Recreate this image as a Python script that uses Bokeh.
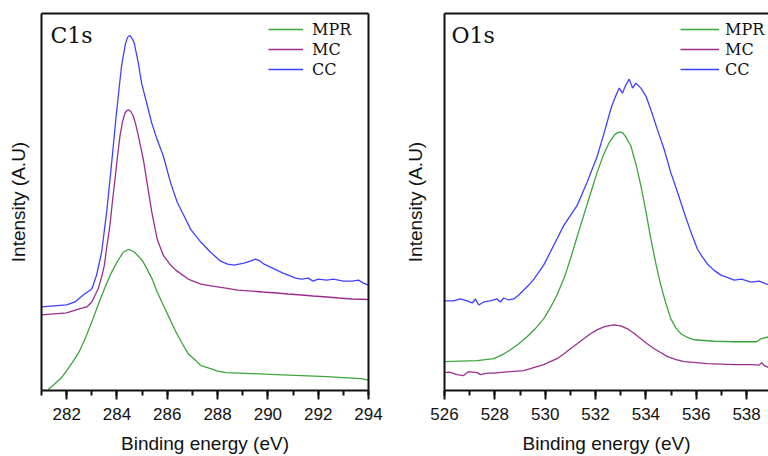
from bokeh.plotting import figure
from bokeh.layouts import row
from bokeh.models import (Range1d, LinearAxis, SingleIntervalTicker, FixedTicker,
                          Legend, LegendItem, Label)
from bokeh.embed import file_html
from bokeh.resources import INLINE

# ---------------- C1s panel data (binding energy eV, intensity a.u.) ----------------
c1s_mpr_e = [281.27, 281.5, 281.8, 282.0, 282.25, 282.5, 282.75, 283.0, 283.25, 283.5,
             283.75, 284.0, 284.25, 284.47, 284.7, 285.0, 285.2, 285.4, 285.6, 285.84,
             286.1, 286.34, 286.6, 286.83, 287.1, 287.34, 287.6, 287.84, 288.0, 288.33,
             289.34, 290.34, 291.34, 292.34, 293.0, 293.35, 293.7, 294.0]
c1s_mpr_i = [1, 6, 13, 20, 29, 39, 53, 69, 86, 102,
             117, 129, 139, 142, 139, 131, 122, 112, 99, 86,
             72, 59, 47, 37, 31, 25, 23, 21, 19.5, 18,
             17, 16, 15, 14, 13, 12.5, 12, 10.5]

c1s_mc_e = [281.0, 281.5, 282.0, 282.5, 282.8, 283.0, 283.25, 283.4, 283.5, 283.6,
            283.72, 283.82, 283.92, 284.02, 284.12, 284.22, 284.32, 284.4, 284.47, 284.55,
            284.65, 284.75, 284.85, 285.05, 285.24, 285.38, 285.6, 285.84, 286.1, 286.34,
            286.83, 287.34, 287.8, 288.33, 288.8, 289.34, 289.8, 290.35, 290.8, 291.34,
            291.8, 292.34, 292.8, 293.35, 294.0]
c1s_mc_i = [76, 77, 78, 82, 84, 89, 102, 115, 126, 145,
            166, 190, 212, 235, 256, 270, 279, 281.5, 282, 280.5,
            276, 267, 256, 232, 202, 180, 152, 136, 127, 121,
            112, 107, 105, 103, 101, 100, 99, 98, 97, 96,
            95, 94, 93, 92, 91.5]

c1s_cc_e = [281.0, 281.5, 282.0, 282.33, 282.66, 283.0, 283.19, 283.39, 283.59, 283.79,
            283.98, 284.18, 284.34, 284.42, 284.51, 284.6, 284.69, 284.85, 284.98, 285.18,
            285.38, 285.6, 285.84, 286.13, 286.4, 286.66, 286.93, 287.34, 287.72, 288.12,
            288.4, 288.65, 289.05, 289.3, 289.51, 289.7, 289.85, 290.1, 290.35, 290.6,
            290.91, 291.1, 291.34, 291.6, 291.8, 292.0, 292.34, 292.6, 293.0, 293.35,
            293.6, 293.8, 294.0]
c1s_cc_i = [84, 85, 86, 89, 96, 102, 116, 139, 179, 229,
            279, 326, 349, 355, 357, 354, 349, 329, 309, 289,
            269, 252, 236, 209, 189, 176, 162, 149, 139, 130,
            127, 126, 128, 130, 132, 130, 127, 124, 121, 118,
            115, 113, 112, 113, 110, 112, 111, 112, 110, 110,
            111, 108, 106]

# ---------------- O1s panel data ----------------
o1s_mpr_e = [525.97, 527.3, 527.96, 528.3, 528.62, 528.95, 529.28, 529.6, 529.94, 530.2,
             530.47, 530.75, 531.0, 531.25, 531.53, 531.8, 532.06, 532.3, 532.54, 532.75,
             532.86, 532.98, 533.1, 533.2, 533.4, 533.6, 533.8, 534.0, 534.2, 534.4,
             534.59, 534.79, 534.99, 535.19, 535.39, 535.6, 535.92, 536.71, 537.5, 538.4,
             538.57, 538.89]
o1s_mpr_i = [29, 30, 32, 36, 41, 47, 54, 62, 72, 83,
             96, 113, 132, 153, 176, 198, 219, 236, 249, 257,
             259, 260, 258.5, 255, 246, 228, 206, 180, 152, 127,
             106, 88, 72, 63, 57, 54, 51, 49.5, 49, 49,
             52, 54]

o1s_mc_e = [525.97, 526.2, 526.5, 526.76, 526.95, 527.3, 527.43, 527.7, 527.96, 528.35,
            528.62, 529.15, 529.41, 529.94, 530.2, 530.47, 530.75, 531.0, 531.27, 531.53,
            531.8, 532.06, 532.33, 532.5, 532.74, 533.0, 533.27, 533.55, 533.8, 534.05,
            534.33, 534.6, 534.86, 535.2, 535.52, 536.0, 536.45, 537.0, 537.51, 538.2,
            538.5, 538.6, 538.7, 538.89]
o1s_mc_i = [18, 18.5, 16, 15, 19, 18, 16, 17.5, 17.5, 18.5,
            19, 20, 22, 26, 29, 32, 37, 42, 47, 52,
            57, 61, 64, 65, 66, 65, 62, 57, 52, 47,
            42, 38, 34, 31, 29, 28, 27, 26.5, 26, 26,
            25.5, 28, 25, 23]

o1s_cc_e = [525.97, 526.37, 526.63, 526.9, 527.1, 527.23, 527.36, 527.56, 527.82, 528.09,
            528.22, 528.35, 528.55, 528.75, 528.95, 529.15, 529.35, 529.55, 529.94, 530.34,
            530.74, 531.27, 531.66, 532.06, 532.33, 532.63, 532.8, 532.94, 533.07, 533.2,
            533.34, 533.47, 533.6, 533.8, 534.0, 534.2, 534.46, 534.73, 534.99, 535.26,
            535.52, 535.79, 536.05, 536.25, 536.45, 536.7, 536.98, 537.2, 537.51, 537.8,
            538.17, 538.5, 538.89]
o1s_cc_i = [90, 90, 92, 90, 88, 92, 86, 89, 90, 92,
            89, 93, 91, 92, 96, 101, 106, 112, 126, 146,
            166, 186, 209, 235, 258, 285, 296, 304, 299, 307,
            313, 304, 309, 304, 296, 282, 262, 242, 219, 199,
            179, 159, 142, 134, 127, 121, 116, 114, 111, 112,
            109, 110, 106]

series_names = ["MPR", "MC", "CC"]
series_colors = ["#3ca53c", "#9a2e8f", "#4040ff"]

SANS = "Liberation Sans"
SERIF = "DejaVu Serif"
INK = "#111111"
FIG_H = 456
FRAME_H = 377


def make_panel(tag, xr, data, width, border_left, border_right, ylab_standoff,
               right_border, leg_x, leg_glyph_w, leg_standoff, tag_x):
    p = figure(width=width, height=FIG_H, x_range=Range1d(*xr), y_range=Range1d(0, 379),
               output_backend="svg", toolbar_location=None,
               min_border_left=border_left, min_border_right=border_right,
               min_border_top=13, min_border_bottom=0,
               x_axis_label="Binding energy (eV)", y_axis_label="Intensity (A.U)")
    p.outline_line_color = None
    p.grid.visible = False
    p.background_fill_color = "white"
    p.border_fill_color = "white"

    xa = p.xaxis[0]
    xa.ticker = SingleIntervalTicker(interval=2, num_minor_ticks=2)
    xa.axis_line_width = 2
    xa.axis_line_color = INK
    xa.major_tick_line_width = 2
    xa.minor_tick_line_width = 2
    xa.major_tick_line_color = INK
    xa.minor_tick_line_color = INK
    xa.major_tick_in = 0
    xa.minor_tick_in = 0
    xa.major_tick_out = 9
    xa.minor_tick_out = 5
    xa.major_label_text_font = SANS
    xa.major_label_text_font_size = "17px"
    xa.major_label_text_color = INK
    xa.major_label_standoff = 8
    xa.axis_label_text_font = SANS
    xa.axis_label_text_font_size = "19px"
    xa.axis_label_text_font_style = "normal"
    xa.axis_label_text_color = INK
    xa.axis_label_standoff = 10

    ya = p.yaxis[0]
    ya.ticker = FixedTicker(ticks=[])
    ya.axis_line_width = 2
    ya.axis_line_color = INK
    ya.major_tick_out = 0
    ya.minor_tick_out = 0
    ya.major_label_standoff = 0
    ya.axis_label_text_font = SANS
    ya.axis_label_text_font_size = "19px"
    ya.axis_label_text_font_style = "normal"
    ya.axis_label_text_color = INK
    ya.axis_label_standoff = ylab_standoff

    def border_axis():
        return LinearAxis(ticker=FixedTicker(ticks=[]), axis_line_width=2, axis_line_color=INK,
                          major_tick_out=0, minor_tick_out=0, major_tick_in=0, minor_tick_in=0,
                          major_label_standoff=0, major_label_text_font_size="0px")

    p.add_layout(border_axis(), "above")
    if right_border:
        p.add_layout(border_axis(), "right")

    items = []
    for name, color, (xs, ys) in zip(series_names, series_colors, data):
        r = p.line(xs, ys, line_color=color, line_width=1.3)
        items.append(LegendItem(label=name, renderers=[r]))

    leg = Legend(items=items, location=(leg_x, FRAME_H - 3 - 63),
                 glyph_width=leg_glyph_w, glyph_height=20, label_height=20,
                 spacing=0, padding=0, margin=0, label_standoff=leg_standoff,
                 border_line_color=None, background_fill_alpha=0,
                 label_text_font=SERIF, label_text_font_size="16px",
                 label_text_color=INK)
    p.add_layout(leg)

    p.add_layout(Label(x=tag_x, y=FRAME_H - 22, x_units="screen", y_units="screen",
                       text=tag, text_font=SERIF, text_font_size="22px",
                       text_color=INK, text_baseline="alphabetic"))
    return p


p1 = make_panel("C1s", (281, 294),
                [(c1s_mpr_e, c1s_mpr_i), (c1s_mc_e, c1s_mc_i), (c1s_cc_e, c1s_cc_i)],
                width=388, border_left=41, border_right=20, ylab_standoff=13,
                right_border=True, leg_x=227, leg_glyph_w=35, leg_standoff=9, tag_x=9)
p2 = make_panel("O1s", (526, 538.87),
                [(o1s_mpr_e, o1s_mpr_i), (o1s_mc_e, o1s_mc_i), (o1s_cc_e, o1s_cc_i)],
                width=380, border_left=56, border_right=0, ylab_standoff=19,
                right_border=False, leg_x=236, leg_glyph_w=39, leg_standoff=6, tag_x=7)

layout = row(p1, p2, spacing=0)
open("out.html", "w").write(file_html(layout, INLINE))
